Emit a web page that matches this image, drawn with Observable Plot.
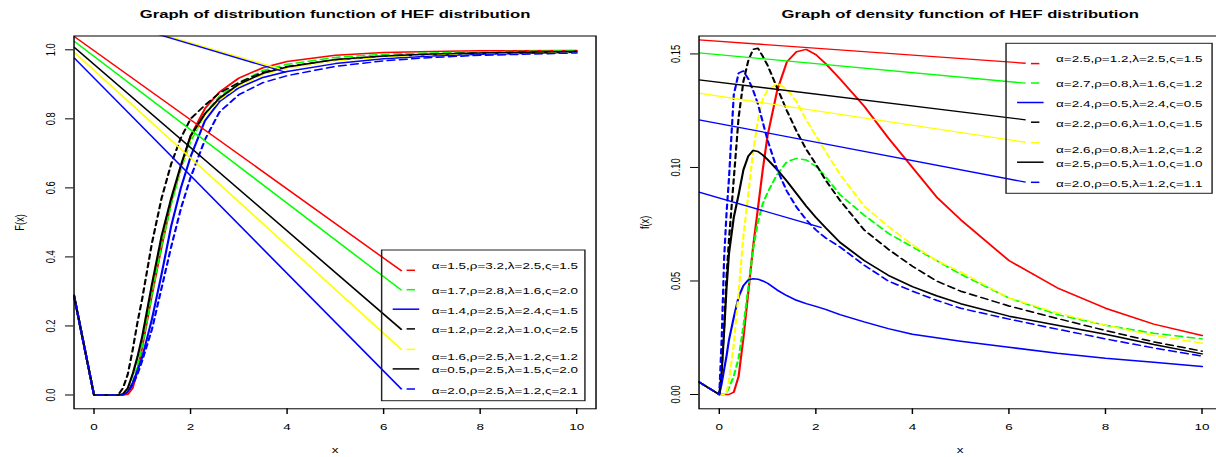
<!DOCTYPE html>
<html><head><meta charset="utf-8">
<script src="https://cdn.jsdelivr.net/npm/d3@7"></script>
<script src="https://cdn.jsdelivr.net/npm/@observablehq/plot@0.6"></script>
<style>
html,body{margin:0;padding:0;background:#fff;}
#page{position:relative;width:1216px;height:457px;overflow:hidden;background:#fff;}
.panel{position:absolute;top:0;height:457px;transform:scaleX(1.45);transform-origin:0 0;}
.panel svg{display:block;}
.legend{position:absolute;left:0;top:0;pointer-events:none;}
</style></head><body><div id="page"></div>
<script>
// ---------------- DATA ----------------
// Left panel: distribution function F(x)
const cdfX = [-0.414, 0, 0.5, 0.6, 0.7, 0.8, 0.9, 1.0, 1.2, 1.4, 1.6, 1.8, 2.0, 2.3, 2.6, 3.0, 3.5, 4, 5, 6, 7, 8, 10];
const cdfRed        = [0.288,0,0,0,0.002,0.02,0.07,0.14,0.29,0.43,0.56,0.66,0.75,0.83,0.878,0.918,0.948,0.966,0.984,0.992,0.995,0.997,0.998];
const cdfGreen      = [0.288,0,0,0,0.008,0.035,0.085,0.145,0.295,0.435,0.555,0.655,0.735,0.815,0.865,0.905,0.94,0.958,0.978,0.987,0.991,0.994,0.997];
const cdfBlue       = [0.288,0,0,0.002,0.01,0.035,0.07,0.11,0.22,0.35,0.49,0.60,0.69,0.795,0.85,0.89,0.92,0.937,0.96,0.974,0.982,0.987,0.993];
const cdfBlackDash  = [0.288,0,0,0.02,0.06,0.13,0.21,0.28,0.44,0.57,0.67,0.745,0.80,0.84,0.875,0.905,0.935,0.952,0.971,0.982,0.987,0.991,0.995];
const cdfYellow     = [0.288,0,0,0.003,0.02,0.06,0.11,0.17,0.32,0.46,0.57,0.66,0.745,0.81,0.855,0.895,0.928,0.946,0.968,0.979,0.986,0.99,0.994];
const cdfBlack      = [0.288,0,0,0.003,0.02,0.06,0.11,0.17,0.32,0.46,0.57,0.665,0.75,0.815,0.86,0.90,0.932,0.95,0.972,0.982,0.988,0.991,0.995];
const cdfBlueDash   = [0.288,0,0,0,0.008,0.03,0.06,0.10,0.19,0.31,0.43,0.54,0.63,0.74,0.82,0.87,0.905,0.925,0.952,0.968,0.978,0.984,0.991];
const cdfLabels = ["α=1.5,ρ=3.2,λ=2.5,ς=1.5","α=1.7,ρ=2.8,λ=1.6,ς=2.0","α=1.4,ρ=2.5,λ=2.4,ς=1.5","α=1.2,ρ=2.2,λ=1.0,ς=2.5","α=1.6,ρ=2.5,λ=1.2,ς=1.2","α=0.5,ρ=2.5,λ=1.5,ς=2.0","α=2.0,ρ=2.5,λ=1.2,ς=2.1"];
// straight lines running into the legend
const cdfLineX1 = [-0.414,-0.414,-0.414,-0.414,-0.414, 1.275, 1.2];
const cdfLineY1 = [1.039, 1.025, 1.008, 0.993, 0.977, 1.05, 1.05];
const cdfLineX2 = [6.375, 6.375, 6.375, 6.375, 6.375, 3.85, 3.97];
const cdfLineY2 = [0.359, 0.303, 0.189, 0.131, 0.016, 0.945, 0.935];
const cdfLineColors = ["red","#00ff00","black","yellow","blue","yellow","blue"];

// Right panel: density function f(x)
const pdfX = [-0.42, 0, 0.05, 0.1, 0.15, 0.2, 0.3, 0.4, 0.5, 0.6, 0.7, 0.8, 0.9, 1.0, 1.2, 1.4, 1.6, 1.8, 2.0, 2.2, 2.5, 3.0, 3.5, 4, 4.5, 5, 6, 7, 8, 9, 10];
const pdfRed       = [0.0055,0,0,0,0,0,0.001,0.008,0.025,0.045,0.065,0.082,0.099,0.114,0.134,0.1465,0.151,0.152,0.1497,0.1458,0.139,0.127,0.113,0.100,0.087,0.077,0.059,0.047,0.038,0.031,0.026];
const pdfGreen     = [0.0055,0,0,0,0.001,0.003,0.008,0.016,0.03,0.047,0.064,0.076,0.084,0.089,0.097,0.1025,0.104,0.1033,0.1005,0.096,0.088,0.079,0.071,0.065,0.059,0.053,0.0425,0.0352,0.0305,0.027,0.0245];
const pdfBlue      = [0.0055,0,0.005,0.011,0.017,0.024,0.034,0.043,0.048,0.0505,0.051,0.0508,0.050,0.049,0.046,0.0435,0.0415,0.040,0.0388,0.0375,0.0352,0.032,0.029,0.0265,0.025,0.0235,0.0208,0.0182,0.016,0.0142,0.0123];
const pdfBlackDash = [0.0055,0,0.012,0.03,0.052,0.068,0.095,0.122,0.138,0.147,0.152,0.1525,0.149,0.145,0.135,0.125,0.116,0.108,0.1015,0.0945,0.0855,0.0725,0.064,0.0565,0.050,0.0455,0.039,0.0335,0.0282,0.0232,0.0191];
const pdfYellow    = [0.0055,0,0,0,0.001,0.006,0.022,0.045,0.07,0.088,0.107,0.1207,0.130,0.134,0.137,0.1345,0.129,0.121,0.114,0.107,0.097,0.083,0.074,0.066,0.059,0.054,0.0425,0.036,0.0305,0.026,0.0226];
const pdfBlack     = [0.0055,0,0.01,0.028,0.047,0.062,0.078,0.088,0.099,0.105,0.1075,0.107,0.1055,0.1035,0.099,0.094,0.0885,0.083,0.078,0.0735,0.067,0.059,0.0525,0.0475,0.0435,0.040,0.0345,0.0305,0.0265,0.022,0.0179];
const pdfBlueDash  = [0.0055,0,0.025,0.06,0.08,0.095,0.132,0.1415,0.1425,0.139,0.134,0.128,0.12,0.112,0.099,0.0895,0.0825,0.077,0.0725,0.069,0.065,0.057,0.050,0.0455,0.0415,0.038,0.0332,0.0288,0.0245,0.0205,0.0169];
const pdfLabels = ["α=2.5,ρ=1.2,λ=2.5,ς=1.5","α=2.7,ρ=0.8,λ=1.6,ς=1.2","α=2.4,ρ=0.5,λ=2.4,ς=0.5","α=2.2,ρ=0.6,λ=1.0,ς=1.5","α=2.6,ρ=0.8,λ=1.2,ς=1.2","α=2.5,ρ=0.5,λ=1.0,ς=1.0","α=2.0,ρ=0.5,λ=1.2,ς=1.1"];
const pdfLineX1 = [-0.42,-0.42,-0.42,-0.42,-0.42,-0.42];
const pdfLineY1 = [0.1562,0.1505,0.1386,0.1327,0.1210,0.0891];
const pdfLineX2 = [6.346,6.346,6.346,6.346,6.346,2.12];
const pdfLineY2 = [0.1459,0.1371,0.1210,0.1111,0.0935,0.0735];
const pdfLineColors = ["red","#00ff00","black","yellow","blue","blue"];

// shared series styling
const seriesColors = ["red","#00ff00","blue","black","yellow","black","blue"];
const curveDashed  = [false,true,false,true,true,false,true];
const legendDashed = [true,true,false,true,true,false,true];

const xTicks = [0,2,4,6,8,10];
const cdfYTicks = [0,0.2,0.4,0.6,0.8,1.0];
const pdfYTicks = [0,0.05,0.10,0.15];

// ---------------- LAYOUT ----------------
const S = 1.45; // horizontal stretch of the original raster
const FONT = '"Liberation Sans", Arial, Helvetica, sans-serif';
const FS = 9.3;
const legendSampleY = [20.3,39.7,59.2,78.9,99.4,118.9,139];
const legendTextY   = [15.5,40.3,60.8,80,106.3,120,140.3];

function makePanel(cfg) {
  const marks = [];
  cfg.series.forEach((ys, i) => {
    const data = cfg.xs.map((x, j) => ({x, y: ys[j]}));
    const opts = {x: "x", y: "y", stroke: seriesColors[i], strokeWidth: 1.5, clip: true};
    if (curveDashed[i]) opts.strokeDasharray = "5,3.5";
    marks.push(Plot.line(data, opts));
  });
  cfg.lineColors.forEach((c, i) => {
    marks.push(Plot.link([i], {
      x1: k => cfg.lx1[k], y1: k => cfg.ly1[k], x2: k => cfg.lx2[k], y2: k => cfg.ly2[k],
      stroke: c, strokeWidth: 1.3, clip: true
    }));
  });
  marks.push(Plot.frame({stroke: "black", strokeWidth: 1}));
  marks.push(Plot.axisX({ticks: xTicks, tickSize: 5.7, tickPadding: 9, fontSize: FS, label: null, tickFormat: d => String(d)}));
  marks.push(Plot.axisY({ticks: cfg.yTicks, tickSize: 5.7, label: null, tickFormat: () => ""}));
  marks.push(Plot.text(cfg.yTicks, {y: d => d, text: cfg.yFmt, frameAnchor: "left", dx: -16.1, rotate: -90, textAnchor: "middle", lineAnchor: "middle", fontSize: FS}));
  marks.push(Plot.text([cfg.title], {text: d => d, frameAnchor: "top", dy: -21.8, fontSize: 11.5, fontWeight: "bold", lineAnchor: "middle"}));
  marks.push(Plot.text(["x"], {text: d => d, frameAnchor: "bottom", dy: 41.1, fontSize: FS, lineAnchor: "middle"}));
  marks.push(Plot.text([cfg.ylab], {text: d => d, frameAnchor: "left", dx: -37.3, rotate: -90, textAnchor: "middle", lineAnchor: "middle", fontSize: FS}));

  const svg = Plot.plot({
    width: cfg.width, height: 457,
    marginLeft: cfg.marginLeft, marginRight: cfg.marginRight, marginTop: 35.5, marginBottom: 48.7,
    x: {domain: cfg.xDomain, label: null},
    y: {domain: cfg.yDomain, label: null},
    style: {fontFamily: FONT, fontSize: FS + "px", color: "black", background: "transparent", overflow: "visible"},
    marks
  });

  const div = document.createElement("div");
  div.className = "panel";
  div.style.left = cfg.left + "px";
  div.style.width = cfg.width + "px";
  div.appendChild(svg);

  // legend (unfilled box, as in the original)
  const lg = d3.select(div).append("svg").attr("class", "legend")
    .attr("width", cfg.width).attr("height", 457)
    .style("font-family", FONT).style("font-size", FS + "px");
  const L = cfg.legend;
  lg.append("rect").attr("x", L.left).attr("y", L.top).attr("width", L.width).attr("height", L.height)
    .attr("fill", "none").attr("stroke", "#222").attr("stroke-width", 1);
  cfg.labels.forEach((lab, i) => {
    const yS = L.top + legendSampleY[i];
    const x1 = L.left + (legendDashed[i] ? 17.2 : 7.6);
    const x2 = L.left + (legendDashed[i] ? 23.0 : 25.9);
    lg.append("line").attr("x1", x1).attr("x2", x2).attr("y1", yS).attr("y2", yS)
      .attr("stroke", seriesColors[i]).attr("stroke-width", 1.5);
    lg.append("text").attr("x", L.left + 34.5).attr("y", L.top + legendTextY[i] + 3.3)
      .attr("fill", "black").text(lab);
  });
  document.getElementById("page").appendChild(div);
}

makePanel({
  left: 0, width: 419.3, marginLeft: 50.55, marginRight: 8.75,
  xDomain: [-0.414, 10.4], yDomain: [-0.04, 1.04],
  xs: cdfX,
  series: [cdfRed, cdfGreen, cdfBlue, cdfBlackDash, cdfYellow, cdfBlack, cdfBlueDash],
  lx1: cdfLineX1, ly1: cdfLineY1, lx2: cdfLineX2, ly2: cdfLineY2, lineColors: cdfLineColors,
  yTicks: cdfYTicks, yFmt: d => d.toFixed(1),
  title: "Graph of distribution function of HEF distribution", ylab: "F(x)",
  labels: cdfLabels,
  legend: {left: 263.2, top: 250, width: 140.2, height: 150.7}
});

makePanel({
  left: 608, width: 423, marginLeft: 62.28, marginRight: 0.52,
  xDomain: [-0.42, 10.4], yDomain: [-0.0063, 0.1579],
  xs: pdfX,
  series: [pdfRed, pdfGreen, pdfBlue, pdfBlackDash, pdfYellow, pdfBlack, pdfBlueDash],
  lx1: pdfLineX1, ly1: pdfLineY1, lx2: pdfLineX2, ly2: pdfLineY2, lineColors: pdfLineColors,
  yTicks: pdfYTicks, yFmt: d => d.toFixed(2),
  title: "Graph of density function of HEF distribution", ylab: "f(x)",
  labels: pdfLabels,
  legend: {left: 274.5, top: 43.3, width: 142.1, height: 150}
});
</script></body></html>
